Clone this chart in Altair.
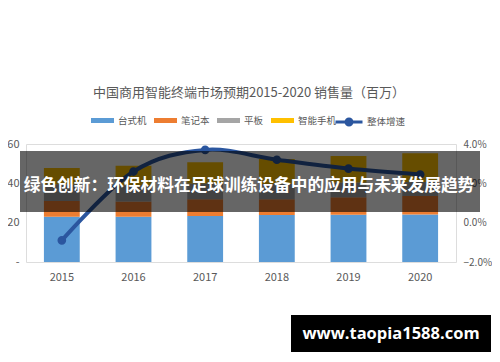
import altair as alt
import pandas as pd

years = ["2015", "2016", "2017", "2018", "2019", "2020"]
series = ["台式机", "笔记本", "平板", "智能手机"]
desktop = [23.0, 23.0, 23.4, 23.9, 24.0, 24.2]
notebook = [8.0, 7.7, 8.5, 8.0, 8.9, 9.3]
tablet = [8.5, 8.3, 8.0, 7.8, 7.5, 7.2]
smartphone = [8.3, 10.0, 10.8, 12.7, 13.5, 14.6]
growth = [-0.009, 0.026, 0.037, 0.032, 0.0275, 0.0245]
growth_name = "整体增速"
bar_colors = ["#5B9BD5", "#ED7D31", "#A5A5A5", "#FFC000"]
line_color = "#2B569F"
left_ticks = [0, 20, 40, 60]
right_ticks = [-0.02, 0.0, 0.02, 0.04]
title_text = "中国商用智能终端市场预期2015-2020 销售量（百万）"
banner_text = "绿色创新：环保材料在足球训练设备中的应用与未来发展趋势"
watermark_text = "www.taopia1588.com"

FONT = "Noto Sans CJK SC"
GRAY = "#595959"

rows = []
for i, y in enumerate(years):
    for k, (name, vals) in enumerate(zip(series, [desktop, notebook, tablet, smartphone])):
        rows.append({"年份": y, "类别": name, "销售量": vals[i], "序": k})
bars_df = pd.DataFrame(rows)
line_df = pd.DataFrame({"年份": years, "增速": growth, "系列": [growth_name] * len(years)})
one = pd.DataFrame({"a": [0]})

xenc = alt.X("年份:N", scale=alt.Scale(paddingInner=0.5, paddingOuter=0.25),
             axis=alt.Axis(title=None, labelAngle=0, ticks=False, domain=False, labelPadding=9,
                           labelFontSize=11, labelColor=GRAY, labelFont=FONT))

bars = alt.Chart(bars_df).mark_bar().encode(
    x=xenc,
    y=alt.Y("sum(销售量):Q", scale=alt.Scale(domain=[0, 60], nice=False),
            axis=alt.Axis(title=None, values=left_ticks, ticks=False, domain=False, grid=False,
                          labelPadding=7, labelFontSize=11, labelColor=GRAY, labelFont=FONT,
                          labelExpr="datum.value == 0 ? '-' : datum.label", zindex=0)),
    color=alt.Color("类别:N", scale=alt.Scale(domain=series, range=bar_colors),
                    legend=alt.Legend(title=None, orient="none", legendX=65, legendY=-35,
                                      direction="horizontal",
                                      symbolType="M-1,-0.22L1,-0.22L1,0.22L-1,0.22Z",
                                      symbolSize=529, symbolStrokeWidth=0,
                                      labelFontSize=9.5, labelColor=GRAY, labelFont=FONT,
                                      labelOffset=4, columnPadding=7, padding=0)),
    order=alt.Order("序:Q", sort="ascending"),
)

line = alt.Chart(line_df).mark_line(
    strokeWidth=4, interpolate="cardinal",
    point=alt.OverlayMarkDef(filled=True, size=45, color=line_color),
).encode(
    x=alt.X("年份:N"),
    y=alt.Y("增速:Q", scale=alt.Scale(domain=[-0.02, 0.04], nice=False),
            axis=alt.Axis(title=None, orient="right", values=right_ticks, format=".1%",
                          ticks=False, domain=False, grid=False, labelPadding=7,
                          labelAlign="left",
                          labelFontSize=10, labelColor=GRAY, labelFont=FONT, zindex=0)),
    stroke=alt.Stroke("系列:N", scale=alt.Scale(domain=[growth_name], range=[line_color]),
                      legend=alt.Legend(title=None, orient="none", legendX=308, legendY=-37,
                                        symbolType="M-1,0L1,0M0.22,0A0.22,0.22,0,1,1,-0.22,0A0.22,0.22,0,1,1,0.22,0Z",
                                        symbolSize=729, symbolStrokeWidth=3,
                                        symbolFillColor=line_color, symbolStrokeColor=line_color,
                                        labelFontSize=9.5, labelColor=GRAY, labelFont=FONT,
                                        labelOffset=3, padding=0)),
)

title = alt.Chart(one).mark_text(font=FONT, fontSize=13, color=GRAY, align="center",
                                 baseline="middle").encode(
    x=alt.value(223), y=alt.value(-51), text=alt.value(title_text))

band = alt.Chart(one).mark_rect(color="black", opacity=0.6).encode(
    x=alt.value(-6), x2=alt.value(454), y=alt.value(7), y2=alt.value(68))

band_text = alt.Chart(one).mark_text(font=FONT, fontSize=16.7, fontWeight="bold", color="white",
                                     align="center", baseline="middle").encode(
    x=alt.value(223), y=alt.value(42), text=alt.value(banner_text))

wm_rect = alt.Chart(one).mark_rect(color="black").encode(
    x=alt.value(265), x2=alt.value(465), y=alt.value(171), y2=alt.value(208))

wm_text = alt.Chart(one).mark_text(font="Open Sans", fontSize=16.5, fontWeight="bold",
                                   color="white", align="center", baseline="middle").encode(
    x=alt.value(365), y=alt.value(190), text=alt.value(watermark_text))

chart = alt.layer(bars, line, title, band, band_text, wm_rect, wm_text).resolve_scale(
    y="independent", color="independent", stroke="independent"
).properties(
    width=430, height=118,
    autosize=alt.AutoSizeParams(type="none"),
    padding={"left": 18, "top": 136, "right": 36, "bottom": 90},
).configure_view(stroke=None).configure(background="white")

chart.save("out.html", embed_options={"renderer": "svg", "actions": False})
